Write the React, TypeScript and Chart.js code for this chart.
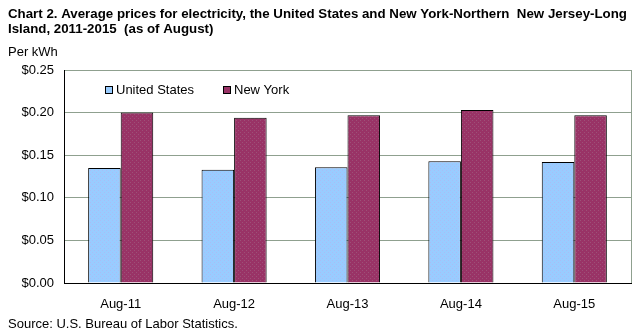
import React, { useEffect, useRef } from 'react';
import { Chart, registerables } from 'chart.js';

Chart.register(...registerables);

const categories = ['Aug-11', 'Aug-12', 'Aug-13', 'Aug-14', 'Aug-15'];
const usValues = [0.135, 0.133, 0.136, 0.143, 0.142];
const nyValues = [0.2, 0.194, 0.197, 0.203, 0.197];
const seriesNames = ['United States', 'New York'];
const titleLines = [
  'Chart 2. Average prices for electricity, the United States and New York-Northern  New Jersey-Long',
  'Island, 2011-2015  (as of August)',
];
const unitLabel = 'Per kWh';
const sourceText = 'Source: U.S. Bureau of Labor Statistics.';
const yMin = 0;
const yMax = 0.25;
const yStep = 0.05;

const FONT = '"Liberation Sans", Arial, sans-serif';
const US_COLOR = '#99CCFF';
const NY_COLOR = '#993366';
const GRID_COLOR = '#8FA08F';

function makePattern(ctx: CanvasRenderingContext2D, base: string, dot: string) {
  const c = document.createElement('canvas');
  c.width = 4;
  c.height = 4;
  const g = c.getContext('2d')!;
  g.fillStyle = base;
  g.fillRect(0, 0, 4, 4);
  g.fillStyle = dot;
  g.fillRect(0, 0, 1, 1);
  g.fillRect(2, 2, 1, 1);
  return ctx.createPattern(c, 'repeat') || base;
}

const textPlugin = {
  id: 'textPlugin',
  afterDraw(chart: any) {
    const ctx = chart.ctx as CanvasRenderingContext2D;
    const area = chart.chartArea;
    ctx.save();
    // right border of plot area
    ctx.strokeStyle = GRID_COLOR;
    ctx.lineWidth = 1;
    ctx.beginPath();
    ctx.moveTo(Math.round(area.right) + 0.5, area.top);
    ctx.lineTo(Math.round(area.right) + 0.5, area.bottom);
    ctx.stroke();

    ctx.fillStyle = '#000';
    ctx.textAlign = 'left';
    ctx.textBaseline = 'middle';
    ctx.font = `bold 13.3px ${FONT}`;
    ctx.fillText(titleLines[0], 8, 14);
    ctx.fillText(titleLines[1], 8, 29);
    ctx.font = `13px ${FONT}`;
    ctx.fillText(unitLabel, 8, 52);
    ctx.fillText(sourceText, 8, 324);

    // legend inside plot area
    const items = [
      { name: seriesNames[0], color: US_COLOR, x: 105 },
      { name: seriesNames[1], color: NY_COLOR, x: 223 },
    ];
    const ly = 90;
    for (const it of items) {
      ctx.fillStyle = it.color;
      ctx.fillRect(it.x, ly - 4, 8, 8);
      ctx.strokeStyle = '#000';
      ctx.strokeRect(it.x + 0.5, ly - 3.5, 7, 7);
      ctx.fillStyle = '#000';
      ctx.fillText(it.name, it.x + 11, ly);
    }
    ctx.restore();
  },
};

export default function App() {
  const ref = useRef<HTMLCanvasElement | null>(null);

  useEffect(() => {
    document.body.style.margin = '0';
    const canvas = ref.current!;
    const ctx = canvas.getContext('2d')!;
    const usFill = makePattern(ctx, US_COLOR, '#A8BDF6');
    const nyFill = makePattern(ctx, NY_COLOR, '#9E5078');
    const chart = new Chart(canvas, {
      type: 'bar',
      data: {
        labels: categories,
        datasets: [
          {
            label: seriesNames[0],
            data: usValues,
            backgroundColor: usFill as any,
            borderColor: '#000',
            borderWidth: 1,
            categoryPercentage: 0.574,
            barPercentage: 1,
          },
          {
            label: seriesNames[1],
            data: nyValues,
            backgroundColor: nyFill as any,
            borderColor: '#000',
            borderWidth: 1,
            categoryPercentage: 0.574,
            barPercentage: 1,
          },
        ],
      },
      options: {
        responsive: false,
        animation: false,
        devicePixelRatio: 1,
        layout: { padding: { top: 70, right: 13, left: 0, bottom: 0 } },
        plugins: {
          legend: { display: false },
          title: { display: false },
          tooltip: { enabled: false },
        },
        scales: {
          x: {
            afterFit(scale: any) {
              scale.height = 53;
            },
            grid: { display: false },
            border: { display: true, color: '#000', width: 1 },
            ticks: {
              color: '#000',
              font: { family: FONT, size: 13 },
              padding: 6,
              maxRotation: 0,
            },
          },
          y: {
            min: yMin,
            max: yMax,
            afterFit(scale: any) {
              scale.width = 64;
            },
            grid: { color: GRID_COLOR, lineWidth: 1, drawTicks: false },
            border: { display: true, color: '#000', width: 1 },
            ticks: {
              stepSize: yStep,
              color: '#000',
              padding: 10,
              font: { family: FONT, size: 13 },
              callback: (v: any) => '$' + Number(v).toFixed(2),
            },
          },
        },
      },
      plugins: [textPlugin],
    });
    return () => chart.destroy();
  }, []);

  return (
    <div style={{ position: 'absolute', left: 0, top: 0, width: 644, height: 336 }}>
      <canvas ref={ref} width={644} height={336} style={{ width: 644, height: 336, display: 'block' }} />
    </div>
  );
}
